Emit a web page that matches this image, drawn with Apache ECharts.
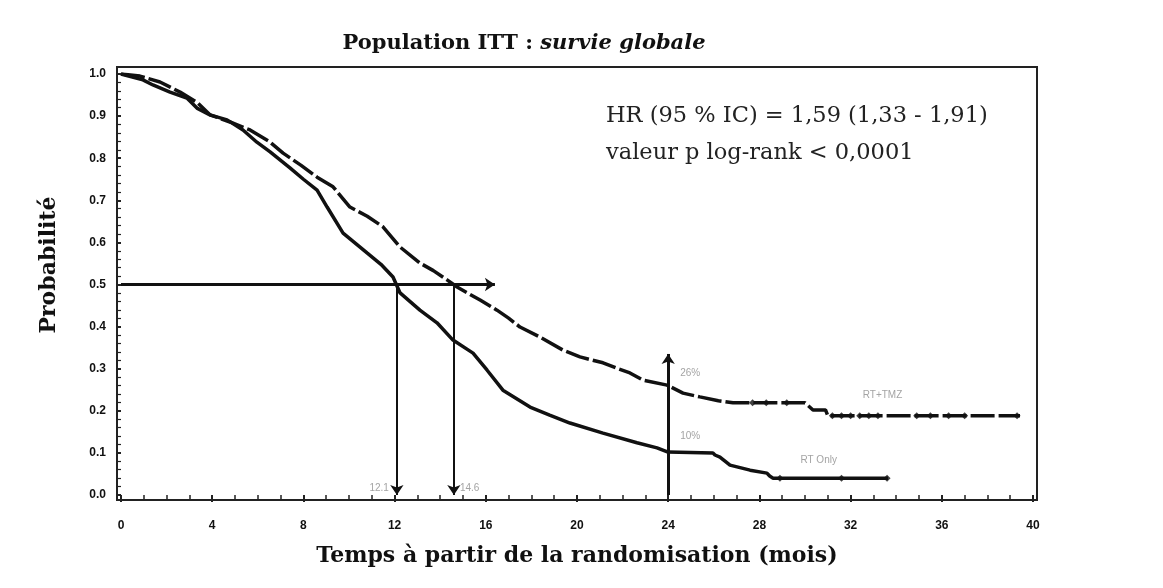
<!DOCTYPE html>
<html><head><meta charset="utf-8">
<script src="https://cdn.jsdelivr.net/npm/echarts@6/dist/echarts.min.js"></script>
<style>html,body{margin:0;padding:0;background:#fff}#c{width:1163px;height:588px}</style>
</head><body><div id="c"></div>
<script>
// ---- data ----
const xTicks = [0,4,8,12,16,20,24,28,32,36,40];
const tmzTime = [0,0.83,1.71,2.59,3.33,3.90,4.78,5.66,6.5,7.11,7.9,8.60,9.30,10.04,10.8,11.49,12.24,13.11,13.7,14.30,14.74,15.75,16.49,17.0,17.50,18.38,19.39,20.13,21.14,21.8,22.32,22.89,23.95,24.65,25.39,26.2,26.84,28.9,30.0,30.35,30.9,31.0,39.43];
const tmzSurv = [1.0,0.995,0.981,0.957,0.933,0.903,0.886,0.867,0.84,0.812,0.783,0.755,0.732,0.684,0.662,0.637,0.589,0.551,0.533,0.511,0.494,0.463,0.439,0.420,0.399,0.375,0.344,0.328,0.314,0.300,0.290,0.273,0.261,0.242,0.233,0.224,0.219,0.219,0.219,0.202,0.202,0.188,0.188];
const rtTime = [0,0.96,1.40,2.15,2.89,3.33,3.90,4.65,5.35,5.96,6.54,7.41,8.0,8.60,9.04,9.74,10.79,11.4,11.93,12.24,13.11,13.86,14.56,15.44,16.05,16.75,17.94,18.8,19.69,21.14,22.63,23.51,23.99,25.96,26.05,26.27,26.71,27.59,28.33,28.45,28.60,33.64];
const rtSurv = [1.0,0.986,0.974,0.957,0.943,0.919,0.903,0.891,0.867,0.838,0.815,0.777,0.750,0.724,0.684,0.622,0.575,0.548,0.518,0.480,0.439,0.409,0.368,0.337,0.297,0.249,0.209,0.190,0.171,0.147,0.124,0.112,0.102,0.100,0.095,0.090,0.071,0.059,0.052,0.045,0.040,0.040];
const tmzCensT = [27.7,28.3,29.2,31.2,31.6,32.0,32.4,32.8,33.2,34.9,35.5,36.3,37.0,39.3];
const tmzCensS = [0.219,0.219,0.219,0.188,0.188,0.188,0.188,0.188,0.188,0.188,0.188,0.188,0.188,0.188];
const rtCensT = [28.9,31.6,33.6];
const rtCensS = [0.040,0.040,0.040];
const medianSurv = 0.5;
const medianRT = 12.1;
const medianTMZ = 14.6;
const medianArrowEnd = 16.4;
const landmark = 24;
const landmarkArrowTop = 0.335;
const landmarkTMZ = 0.26;
const landmarkRT = 0.10;
const groupNames = ['RT+TMZ','RT Only'];
const titleMain = 'Population ITT : ';
const titleItalic = 'survie globale';
const yName = 'Probabilité';
const xName = 'Temps à partir de la randomisation (mois)';
const statLines = ['HR (95 % IC) = 1,59 (1,33 - 1,91)','valeur p log-rank < 0,0001'];

const pairs = (a,b) => a.map((v,i)=>[v,b[i]]);
const chart = echarts.init(document.getElementById('c'));
const serif = '"DejaVu Serif","Liberation Serif",serif';
const ink = '#111';
const gray = '#8c8c8c';
const arrowLine = w => ({color:ink,width:w,type:'solid'});

chart.setOption({
  animation:false,
  backgroundColor:'#fff',
  title:{
    text:'{a|'+titleMain+'}{b|'+titleItalic+'}',
    left:519, top:28, textAlign:'center',
    textStyle:{rich:{
      a:{fontFamily:serif,fontWeight:'bold',fontSize:21,color:ink},
      b:{fontFamily:serif,fontWeight:'bold',fontStyle:'italic',fontSize:21,color:ink}
    }}
  },
  graphic:[
    {type:'text',left:606,top:105,style:{text:statLines[0],font:'22.5px '+serif,fill:'#222'}},
    {type:'text',left:606,top:142,style:{text:statLines[1],font:'22.5px '+serif,fill:'#222'}},
    {type:'text',x:49,y:265,rotation:Math.PI/2,
     style:{text:yName,font:'bold 22px '+serif,fill:ink,textAlign:'center',textVerticalAlign:'middle'}}
  ],
  grid:[
    {left:121,right:130,top:74,bottom:93},
    {left:117,right:126,top:67,bottom:88,show:true,borderColor:'#222',borderWidth:2,backgroundColor:'transparent'}
  ],
  xAxis:[
    {type:'value',gridIndex:0,min:0,max:40,interval:4,offset:5,
     name:xName,nameLocation:'middle',nameGap:45,
     nameTextStyle:{fontFamily:serif,fontWeight:'bold',fontSize:22,color:ink},
     axisLine:{show:false},
     axisTick:{show:true,length:7,lineStyle:{color:'#222',width:2}},
     minorTick:{show:true,splitNumber:4,length:4,lineStyle:{color:'#222',width:1.5}},
     axisLabel:{margin:20,fontFamily:'"Liberation Sans",Arial,sans-serif',fontWeight:'bold',fontSize:12,color:ink},
     splitLine:{show:false}},
    {type:'value',gridIndex:1,show:false,min:0,max:1}
  ],
  yAxis:[
    {type:'value',gridIndex:0,min:0,max:1,interval:0.1,offset:4,
     axisLine:{show:false},
     axisTick:{show:true,length:5,lineStyle:{color:'#222',width:2}},
     minorTick:{show:true,splitNumber:5,length:3,lineStyle:{color:'#222',width:1.2}},
     axisLabel:{margin:11,fontFamily:'"Liberation Sans",Arial,sans-serif',fontWeight:'bold',fontSize:12,color:ink,
       formatter:v=>v.toFixed(1)},
     splitLine:{show:false}},
    {type:'value',gridIndex:1,show:false,min:0,max:1}
  ],
  series:[
    {name:groupNames[0],type:'line',xAxisIndex:0,yAxisIndex:0,data:pairs(tmzTime,tmzSurv),
     showSymbol:false,lineStyle:{color:ink,width:3.5,type:[24,4]},z:3},
    {name:groupNames[1],type:'line',xAxisIndex:0,yAxisIndex:0,data:pairs(rtTime,rtSurv),
     showSymbol:false,lineStyle:{color:ink,width:3.5},z:3},
    {type:'scatter',data:pairs(tmzCensT,tmzCensS),symbol:'diamond',symbolSize:7,itemStyle:{color:ink},z:4},
    {type:'scatter',data:pairs(rtCensT,rtCensS),symbol:'diamond',symbolSize:7,itemStyle:{color:ink},z:4},
    {type:'line',data:[],silent:true,
     markLine:{silent:true,animation:false,label:{show:false},symbol:['none','arrow'],symbolSize:10,
       lineStyle:arrowLine(2),
       data:[
         [{coord:[0,medianSurv],lineStyle:arrowLine(3)},{coord:[medianArrowEnd,medianSurv]}],
         [{coord:[medianRT,medianSurv],lineStyle:arrowLine(2)},{coord:[medianRT,0]}],
         [{coord:[medianTMZ,medianSurv],lineStyle:arrowLine(2)},{coord:[medianTMZ,0]}],
         [{coord:[landmark,0],lineStyle:arrowLine(3)},{coord:[landmark,landmarkArrowTop]}]
       ]}},
    {type:'scatter',symbolSize:0,silent:true,
     data:[
       {value:[medianRT,0.017],label:{formatter:String(medianRT),position:'left',distance:8}},
       {value:[medianTMZ,0.017],label:{formatter:String(medianTMZ),position:'right',distance:6}},
       {value:[landmark,landmarkTMZ+0.03],label:{formatter:Math.round(landmarkTMZ*100)+'%',position:'right',distance:12}},
       {value:[landmark,landmarkRT+0.04],label:{formatter:Math.round(landmarkRT*100)+'%',position:'right',distance:12}},
       {value:[33.4,0.238],label:{formatter:groupNames[0],position:'inside'}},
       {value:[30.6,0.083],label:{formatter:groupNames[1],position:'inside'}}
     ],
     label:{show:true,color:gray,fontSize:10,fontFamily:'"Liberation Sans",Arial,sans-serif'}}
  ]
});
</script></body></html>
